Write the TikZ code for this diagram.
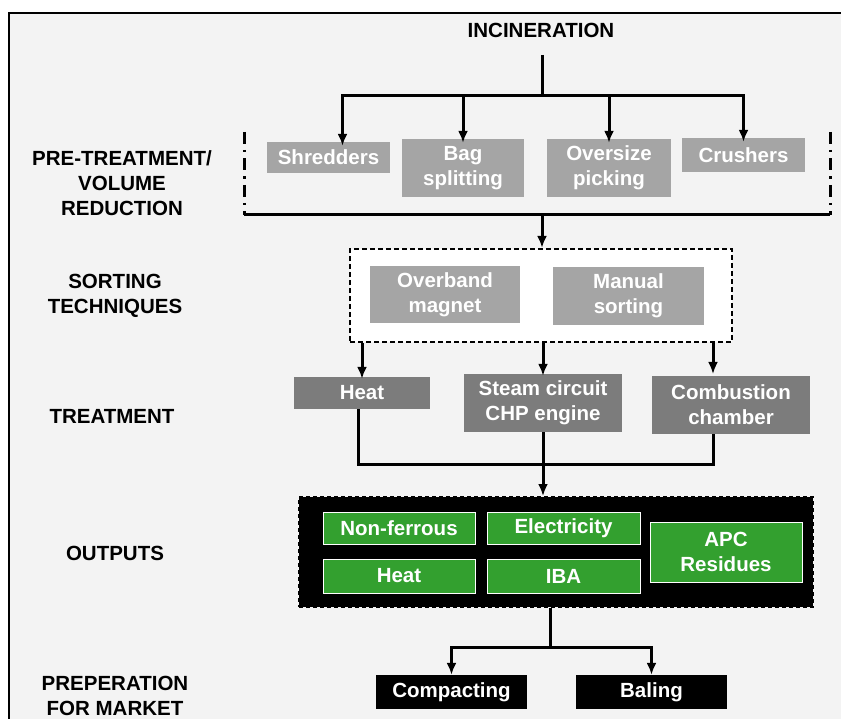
\documentclass[tikz,border=0pt]{standalone}
\usepackage{xcolor}
\usepackage{fontspec}
\setmainfont{Liberation Sans}
\usepackage{tikz}
\usetikzlibrary{arrows}
\usetikzlibrary{arrows.meta}
\usetikzlibrary{positioning}
\definecolor{bgray}{HTML}{F3F3F3}
\definecolor{lgray}{HTML}{A5A5A5}
\definecolor{dgray}{HTML}{7C7C7C}
\definecolor{ogreen}{HTML}{33A02F}
\tikzset{>=latex}
\tikzstyle{lab} = [align=center, font=\fontsize{20.5}{25}\selectfont\bfseries]
\tikzstyle{pre} = [rectangle, fill=lgray, text=white, align=center, inner sep=0pt, font=\fontsize{20.5}{25}\selectfont\bfseries]
\tikzstyle{trt} = [pre, fill=dgray]
\tikzstyle{outb} = [pre, fill=ogreen, draw=white, line width=1pt]
\tikzstyle{mkt} = [pre, fill=black]
\tikzstyle{ln} = [line width=3pt]
\tikzstyle{lnk} = [-{Latex[length=12pt, width=10pt]}, line width=3pt]

\begin{document}
\begin{tikzpicture}[x=1pt, y=-1pt]
\useasboundingbox (0,0) rectangle (841,719);
\fill [bgray] (9,13) rectangle (845,725);
\draw [line width=1.8pt] (9,725) -- (9,13) -- (845,13);

% stage labels
\node [lab] (incin) at (541,30) {INCINERATION};
\node [lab] (lpre) at (122,183) {PRE-TREATMENT/\\VOLUME\\REDUCTION};
\node [lab] (lsort) at (115,296) {SORTING\\TECHNIQUES};
\node [lab] (ltreat) at (112,416) {TREATMENT};
\node [lab] (lout) at (115,553) {OUTPUTS};
\node [lab] (lmkt) at (115,696) {PREPERATION\\FOR MARKET};

% pre-treatment
\node [pre, minimum width=123, minimum height=31] (shred) at (328.5,157.5) {Shredders};
\node [pre, minimum width=122, minimum height=58] (bag) at (463,168) {Bag\\splitting};
\node [pre, minimum width=124, minimum height=58] (over) at (609,168) {Oversize\\picking};
\node [pre, minimum width=123, minimum height=34] (crush) at (743.5,155) {Crushers};
\draw [ln, dash pattern=on 12pt off 6pt on 2.5pt off 6pt] (244,132) -- (244,215);
\draw [ln, dash pattern=on 12pt off 6pt on 2.5pt off 6pt] (830,132) -- (830,215);
\coordinate (brl) at (244,215);
\coordinate (brr) at (830,215);
\coordinate (brm) at (542,215);

% sorting
\node [rectangle, draw, fill=white, line width=2.2pt, dash pattern=on 5pt off 3pt, minimum width=382, minimum height=93] (sort) at (541,295.5) {};
\node [pre, minimum width=150, minimum height=57] (magnet) at (445,294.5) {Overband\\magnet};
\node [pre, minimum width=151, minimum height=58] (manual) at (628.5,296) {Manual\\sorting};

% treatment
\node [trt, minimum width=136, minimum height=32] (theat) at (362,393) {Heat};
\node [trt, minimum width=158, minimum height=58] (steam) at (543,403) {Steam circuit\\CHP engine};
\node [trt, minimum width=158, minimum height=58] (comb) at (731,405) {Combustion\\chamber};

% outputs
\node [rectangle, fill=black, draw=black, line width=2pt, dash pattern=on 4pt off 3pt, minimum width=514, minimum height=110] (outs) at (556,552) {};
\node [outb, minimum width=152, minimum height=32] (nonfe) at (399,528) {Non-ferrous};
\node [outb, minimum width=153, minimum height=32] (elec) at (563.5,528) {Electricity};
\node [outb, minimum width=152, minimum height=34] (oheat) at (399,576) {Heat};
\node [outb, minimum width=153, minimum height=34] (iba) at (563.5,576) {IBA};
\node [outb, minimum width=152, minimum height=60] (apc) at (726,552) {APC\\Residues};

% market
\node [mkt, minimum width=151, minimum height=34] (compact) at (451.5,692) {Compacting};
\node [mkt, minimum width=151, minimum height=34] (baling) at (651.5,692) {Baling};

% connectors
\coordinate (split1) at (542,96);
\draw [ln] (split1 |- 0,55) -- (split1);
\draw [lnk] (split1) -| ([xshift=14pt, yshift=-4pt]shred.north);
\draw [lnk] (split1) -| ([yshift=-4pt]bag.north);
\draw [lnk] (split1) -| ([yshift=-4pt]over.north);
\draw [lnk] (split1) -| ([yshift=-4pt]crush.north);
\draw [ln] (brl) -- (brr);
\draw [lnk] (brm) -- (brm |- sort.north);

\draw [lnk] (sort.south -| theat) -- ([yshift=-2pt]theat.north);
\draw [lnk] (sort.south -| steam) -- ([yshift=-2pt]steam.north);
\draw [lnk] (sort.south -| 713,0) -- (713,374);

\coordinate (join) at (543,464);
\draw [ln] (theat.south -| 358,0) |- (join);
\draw [ln] (comb.south -| 713,0) |- (join);
\draw [lnk] (steam.south) -- (outs.north -| steam.south);

\coordinate (split2) at (550,647);
\draw [ln] (outs.south -| split2) -- (split2);
\draw [lnk] (split2) -| (compact.north);
\draw [lnk] (split2) -| (baling.north);
\end{tikzpicture}
\end{document}
